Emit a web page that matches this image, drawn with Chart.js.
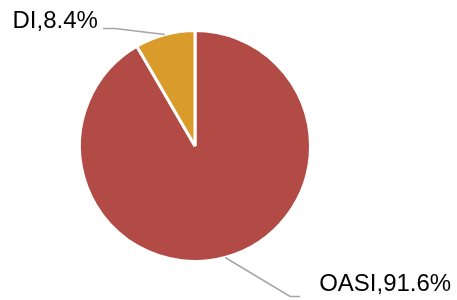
<!DOCTYPE html>
<html>
<head>
<meta charset="utf-8">
<script src="https://cdn.jsdelivr.net/npm/chart.js@4.4.0/dist/chart.umd.min.js"></script>
<style>
  html, body { margin: 0; padding: 0; background: #fff; }
  #wrap { width: 457px; height: 300px; }
</style>
</head>
<body>
<div id="wrap"><canvas id="pieChart"></canvas></div>
<script>
// dados
const categorias = ['OASI', 'DI'];
const valores = [91.6, 8.4];
const cores = ['#B24A45', '#D99B2A'];

// rótulos com linha de chamada (estilo Excel)
const rotulosPlugin = {
    id: 'rotulos',
    afterDatasetsDraw(chart) {
        const ctx = chart.ctx;
        const arcs = chart.getDatasetMeta(0).data;
        ctx.save();
        ctx.font = '24px "Liberation Sans", Arial, sans-serif';
        ctx.fillStyle = '#000';
        ctx.strokeStyle = '#A6A6A6';
        ctx.lineWidth = 1.5;
        arcs.forEach(function (arc, i) {
            const meio = (arc.startAngle + arc.endAngle) / 2;
            const ex = arc.x + Math.cos(meio) * arc.outerRadius;
            const ey = arc.y + Math.sin(meio) * arc.outerRadius;
            const texto = categorias[i] + ',' + valores[i] + '%';
            const esquerda = Math.cos(meio) < 0;
            let cx, cy, fx;
            if (esquerda) {
                cx = ex - 50; cy = ey - 6; fx = cx - 12;
            } else {
                cx = ex + 65; cy = ey + 39; fx = cx + 10;
            }
            ctx.beginPath();
            ctx.moveTo(ex, ey);
            ctx.lineTo(cx, cy);
            ctx.lineTo(fx, cy);
            ctx.stroke();
            if (esquerda) {
                ctx.textAlign = 'right';
                ctx.textBaseline = 'alphabetic';
                ctx.fillText(texto, fx - 5, cy);
            } else {
                ctx.textAlign = 'left';
                ctx.textBaseline = 'alphabetic';
                ctx.fillText(texto, fx + 19, cy - 6);
            }
        });
        ctx.restore();
    }
};

const pieCtx = document.getElementById('pieChart').getContext('2d');
new Chart(pieCtx, {
    type: 'pie',
    data: {
        labels: categorias,
        datasets: [{
            data: valores,
            backgroundColor: cores,
            borderColor: '#ffffff',
            borderWidth: 3
        }]
    },
    options: {
        responsive: true,
        maintainAspectRatio: false,
        animation: false,
        layout: {
            padding: { left: 78, right: 145, top: 29, bottom: 37 }
        },
        plugins: {
            legend: { display: false },
            tooltip: { enabled: false }
        }
    },
    plugins: [rotulosPlugin]
});
</script>
</body>
</html>
